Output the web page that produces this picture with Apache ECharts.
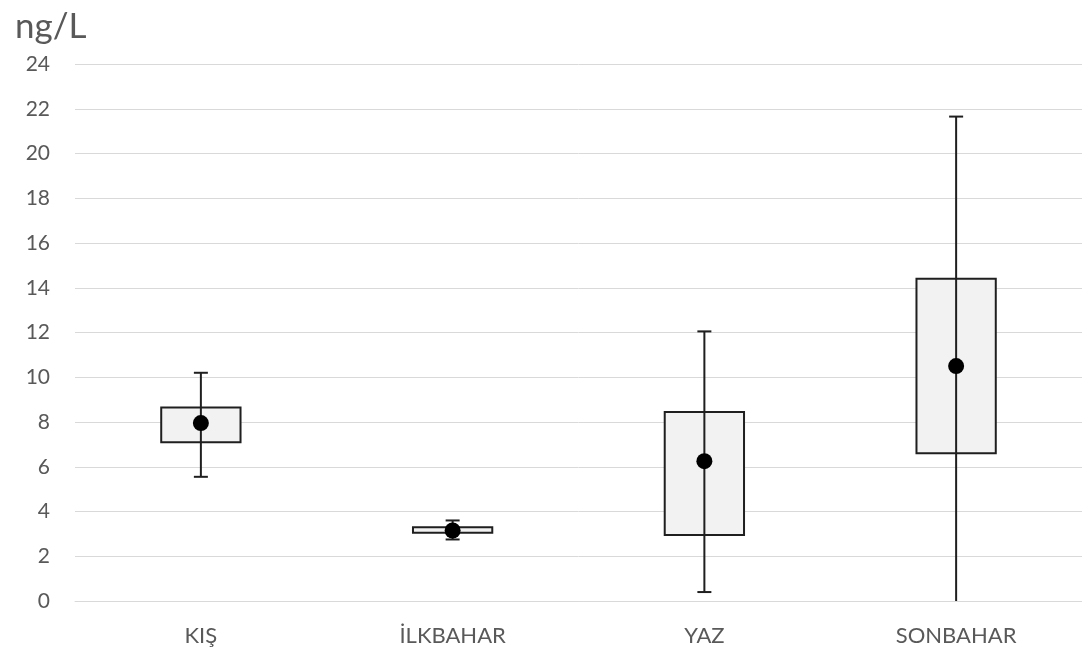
<!DOCTYPE html>
<html>
<head>
<meta charset="utf-8">
<script src="https://cdn.jsdelivr.net/npm/echarts@6/dist/echarts.min.js"></script>
<style>
  html, body { margin: 0; padding: 0; background: #fff; }
  #chart { width: 1082px; height: 652px; }
</style>
</head>
<body>
<div id="chart"></div>
<script>
const categories = ['KIŞ', 'İLKBAHAR', 'YAZ', 'SONBAHAR'];
// SONBAHAR low whisker runs below the axis minimum and is cut off at 0
const lows = [5.55, 2.75, 0.4, -0.8];
const q1s = [7.1, 3.05, 2.95, 6.6];
const q3s = [8.65, 3.3, 8.45, 14.4];
const highs = [10.2, 3.6, 12.05, 21.65];
const means = [7.95, 3.15, 6.25, 10.5];

const boxData = categories.map((c, i) => [i, lows[i], q1s[i], q3s[i], highs[i], means[i]]);

const chart = echarts.init(document.getElementById('chart'));

const lineColor = '#1f1f1f';

function renderBox(params, api) {
  const idx = api.value(0);
  const low = api.coord([idx, api.value(1)]);
  const q1 = api.coord([idx, api.value(2)]);
  const q3 = api.coord([idx, api.value(3)]);
  const high = api.coord([idx, api.value(4)]);
  const mean = api.coord([idx, api.value(5)]);
  const band = api.size([1, 0])[0];
  const boxW = band * 0.315;
  const capW = 14;
  const x = low[0];
  const stroke = { stroke: lineColor, lineWidth: 2, fill: null };
  return {
    type: 'group',
    children: [
      {
        type: 'line',
        shape: { x1: x, y1: low[1], x2: x, y2: high[1] },
        style: stroke
      },
      {
        type: 'line',
        shape: { x1: x - capW / 2, y1: high[1], x2: x + capW / 2, y2: high[1] },
        style: stroke
      },
      {
        type: 'line',
        shape: { x1: x - capW / 2, y1: low[1], x2: x + capW / 2, y2: low[1] },
        style: stroke
      },
      {
        type: 'rect',
        shape: { x: x - boxW / 2, y: q3[1], width: boxW, height: q1[1] - q3[1] },
        style: { fill: '#f2f2f2', stroke: lineColor, lineWidth: 2 }
      },
      {
        type: 'line',
        shape: { x1: x, y1: q3[1], x2: x, y2: q1[1] },
        style: stroke
      },
      {
        type: 'circle',
        shape: { cx: x, cy: mean[1], r: 8 },
        style: { fill: '#000' }
      }
    ]
  };
}

const option = {
  animation: false,
  backgroundColor: '#fff',
  title: {
    text: 'ng/L',
    left: 10,
    top: 4,
    textStyle: {
      fontFamily: 'Lato',
      fontSize: 35,
      fontWeight: 'normal',
      color: '#595959'
    }
  },
  grid: { left: 75, right: -3, top: 64, bottom: 51 },
  xAxis: {
    type: 'category',
    data: categories,
    axisLine: { show: true, lineStyle: { color: '#d9d9d9', width: 1 } },
    axisTick: { show: false },
    axisLabel: {
      color: '#595959',
      fontFamily: 'Lato',
      fontSize: 22,
      margin: 24
    }
  },
  yAxis: {
    type: 'value',
    min: 0,
    max: 24,
    interval: 2,
    axisLine: { show: false },
    axisTick: { show: false },
    splitLine: { lineStyle: { color: '#d9d9d9', width: 1 } },
    axisLabel: {
      color: '#595959',
      fontFamily: 'Lato',
      fontSize: 21,
      margin: 25
    }
  },
  series: [
    {
      type: 'custom',
      renderItem: renderBox,
      clip: true,
      encode: { x: 0, y: [1, 2, 3, 4, 5] },
      data: boxData,
      z: 5
    }
  ]
};

chart.setOption(option);
</script>
</body>
</html>
